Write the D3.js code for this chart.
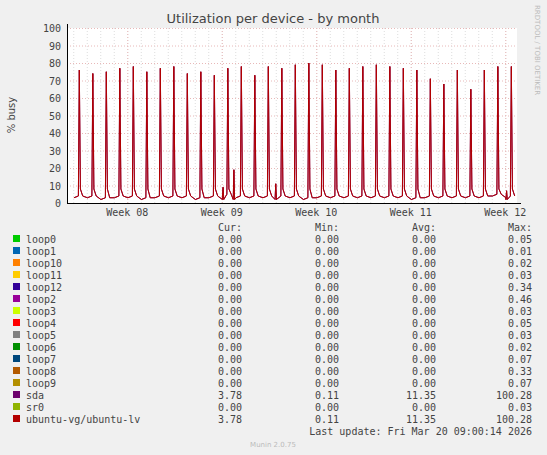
<!DOCTYPE html>
<html><head><meta charset="utf-8">
<script src="https://cdn.jsdelivr.net/npm/d3@7"></script>
<style>body{margin:0;background:#f0f0f0}svg{font-family:"DejaVu Sans Mono",monospace}</style>
</head><body><svg id="c" width="547" height="455"></svg>
<script>
const yTicks=[0,10,20,30,40,50,60,70,80,90,100];
const weekLabels=["Week 08","Week 09","Week 10","Week 11","Week 12"];
const weekDays=[3.5,10.5,17.5,24.5,31.5];
// daily spike peaks (% busy), day index 0..32
const peaks=[76,74,75,77,78,75,77,78,74,75,73,77,78,73,78,77,79,80,79,76,77,78,79,78,77,76,71,68,76,65,76,78,78];
// daily baseline level between spikes
const base=[3,3,2,3,3,2,3,3,3,2,3,4,3,3,3,3,3,2,3,3,3,3,3,3,3,2,3,3,3,3,3,4,3];
// extra small bumps: [day offset, value]
const bumps=[[10.6,9],[11.4,19],[14.5,11],[31.6,7]];
const names=["loop0","loop1","loop10","loop11","loop12","loop2","loop3","loop4","loop5","loop6","loop7","loop8","loop9","sda","sr0","ubuntu-vg/ubuntu-lv"];
const colors=["#00CC00","#0066B3","#FF8000","#FFCC00","#330099","#990099","#CCFF00","#FF0000","#808080","#008F00","#00487D","#B35A00","#B38F00","#6B006B","#8FB300","#B30000"];
const cur=["0.00","0.00","0.00","0.00","0.00","0.00","0.00","0.00","0.00","0.00","0.00","0.00","0.00","3.78","0.00","3.78"];
const mins=["0.00","0.00","0.00","0.00","0.00","0.00","0.00","0.00","0.00","0.00","0.00","0.00","0.00","0.11","0.00","0.11"];
const avgs=["0.00","0.00","0.00","0.00","0.00","0.00","0.00","0.00","0.00","0.00","0.00","0.00","0.00","11.35","0.00","11.35"];
const maxs=["0.05","0.01","0.02","0.03","0.34","0.46","0.03","0.05","0.03","0.02","0.07","0.33","0.07","100.28","0.03","100.28"];

const svg=d3.select("#c");
const x=d3.scaleLinear().domain([-0.963,32.37]).range([67,517]);
const y=d3.scaleLinear().domain([0,100]).range([203,28]);
svg.append("rect").attr("x",67).attr("y",28).attr("width",450).attr("height",175).attr("fill","#fff");
const g=svg.append("g");
yTicks.forEach(t=>{g.append("line").attr("x1",67).attr("x2",517).attr("y1",y(t)+.5).attr("y2",y(t)+.5)
 .attr("stroke",t==0?"#000":"#e8b8b8").attr("stroke-dasharray",t==0?null:"1,2");
 g.append("text").attr("x",61).attr("y",y(t)+4).attr("text-anchor","end").attr("font-size",10).attr("fill","#444").text(t);});
for(let d=0;d<=32;d++){g.append("line").attr("x1",x(d-0.5)+.5).attr("x2",x(d-0.5)+.5).attr("y1",28).attr("y2",203).attr("stroke","#ddd").attr("stroke-dasharray","1,2");}
weekDays.forEach((d,i)=>{g.append("line").attr("x1",x(d)+.5).attr("x2",x(d)+.5).attr("y1",28).attr("y2",203).attr("stroke","#e8b8b8").attr("stroke-dasharray","1,2");
 g.append("text").attr("x",x(d)).attr("y",216).attr("text-anchor","middle").attr("font-size",10).attr("fill","#444").text(weekLabels[i]);});
let pts=[];
peaks.forEach((p,i)=>{pts.push([i-0.45,base[i]],[i-0.12,base[i]+1],[i-0.05,p],[i+0.03,8],[i+0.2,base[i]+1]);});
bumps.forEach(b=>pts.push([b[0]-0.05,2],[b[0],b[1]],[b[0]+0.05,2]));
pts.sort((a,b)=>a[0]-b[0]);
const line=d3.line().x(d=>x(d[0])).y(d=>y(d[1]));
g.append("path").attr("d",line(pts)).attr("fill","none").attr("stroke","#6B006B").attr("stroke-width",1);
g.append("path").attr("d",line(pts)).attr("fill","none").attr("stroke","#B30000").attr("stroke-width",1);
g.append("line").attr("x1",67.5).attr("x2",67.5).attr("y1",24).attr("y2",203).attr("stroke","#000");
g.append("line").attr("x1",67).attr("x2",521).attr("y1",203.5).attr("y2",203.5).attr("stroke","#000");
svg.append("text").attr("x",273).attr("y",23).attr("text-anchor","middle").attr("font-family","DejaVu Sans").attr("font-size",13).attr("fill","#444").text("Utilization per device - by month");
svg.append("text").attr("transform","translate(15,115) rotate(-90)").attr("text-anchor","middle").attr("font-family","DejaVu Sans").attr("font-size",10).attr("fill","#444").text("% busy");
svg.append("text").attr("transform","translate(535,5) rotate(90)").attr("font-family","DejaVu Sans").attr("font-size",7).attr("fill","#bbb").text("RRDTOOL / TOBI OETIKER");
const cols=[[242,"Cur:",cur],[339,"Min:",mins],[436,"Avg:",avgs],[532,"Max:",maxs]];
cols.forEach(c=>svg.append("text").attr("x",c[0]).attr("y",231).attr("text-anchor","end").attr("font-size",10).attr("fill","#444").text(c[1]));
names.forEach((n,i)=>{const yy=243+i*12;
 svg.append("rect").attr("x",13).attr("y",yy-8).attr("width",7).attr("height",7).attr("fill",colors[i]);
 svg.append("text").attr("x",26).attr("y",yy).attr("font-size",10).attr("fill","#444").text(n);
 cols.forEach(c=>svg.append("text").attr("x",c[0]).attr("y",yy).attr("text-anchor","end").attr("font-size",10).attr("fill","#444").text(c[2][i]));});
svg.append("text").attr("x",532).attr("y",435).attr("text-anchor","end").attr("font-size",10).attr("fill","#444").text("Last update: Fri Mar 20 09:00:14 2026");
svg.append("text").attr("x",273).attr("y",447).attr("text-anchor","middle").attr("font-family","DejaVu Sans").attr("font-size",7).attr("fill","#bbb").text("Munin 2.0.75");
</script></body></html>
